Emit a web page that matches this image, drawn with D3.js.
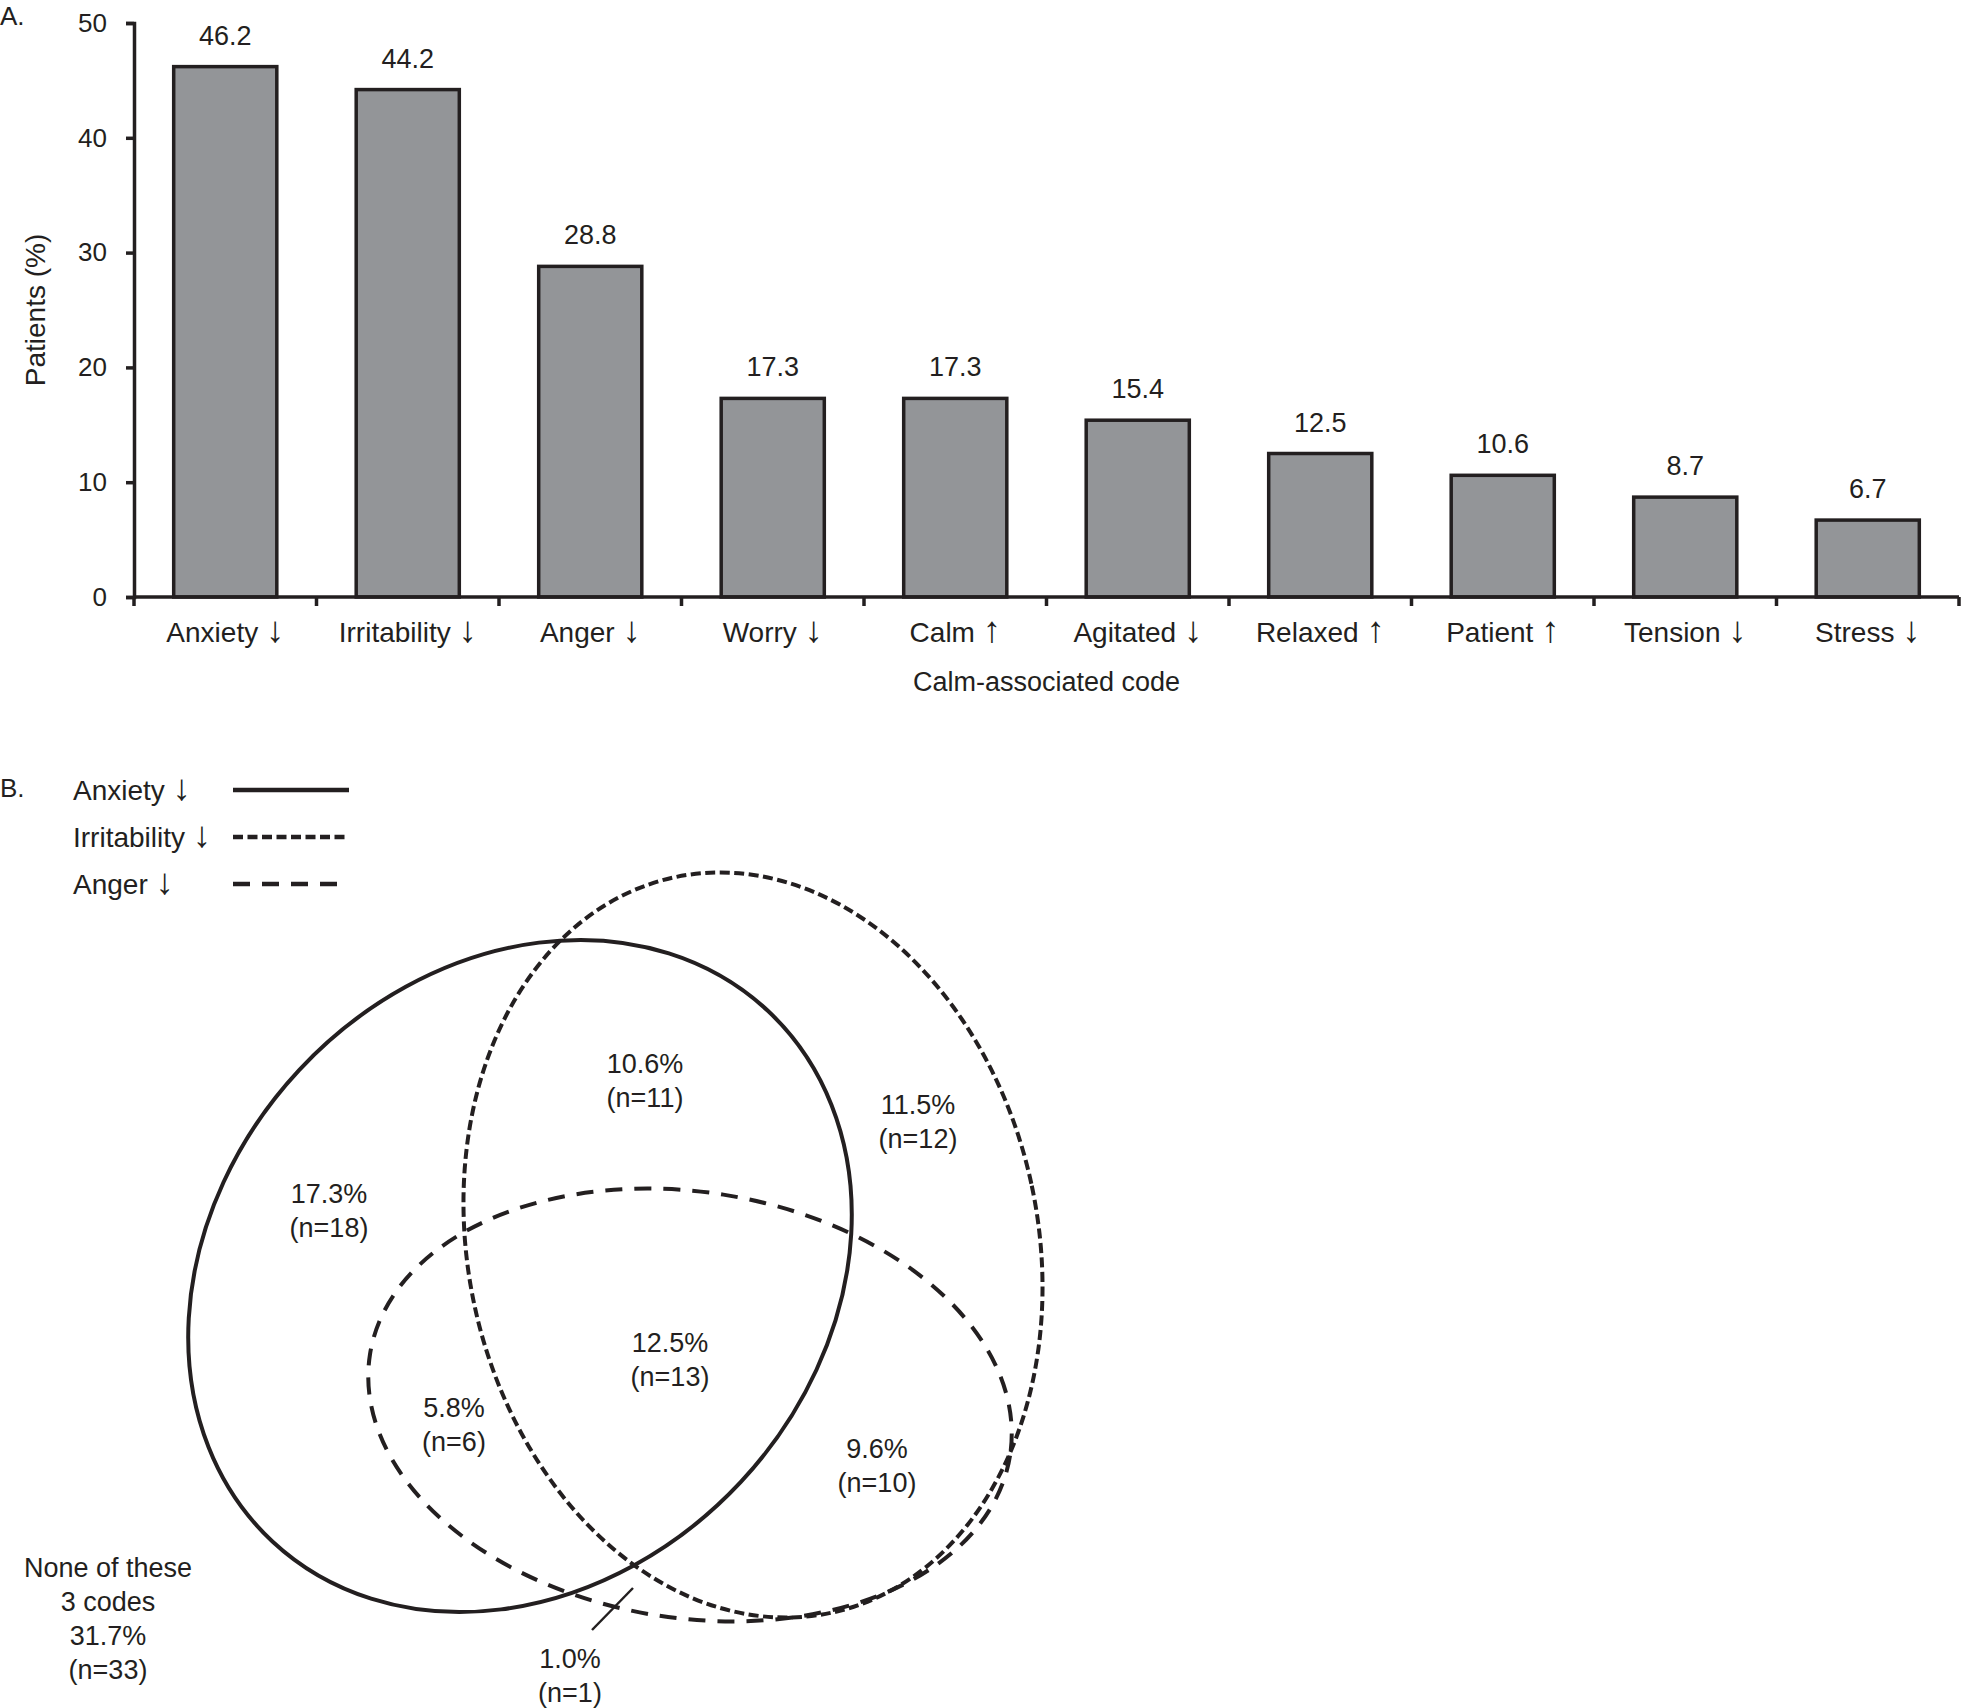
<!DOCTYPE html>
<html lang="en">
<head>
  <meta charset="UTF-8">
  <title>Calm-associated codes</title>
  <script src="https://cdn.jsdelivr.net/npm/d3@7"></script>
  <style>
    body { margin: 0; background: #fff; }
    svg { display: block; }
    text { font-family: 'Liberation Sans', Arial, sans-serif; fill: #231f20; }
    .arrow { font-size: 1.3em; }
  </style>
</head>
<body>
  <div id="chart"></div>
  <script>
    // Panel A data
    const codes = ['Anxiety ↓', 'Irritability ↓', 'Anger ↓', 'Worry ↓', 'Calm ↑',
      'Agitated ↓', 'Relaxed ↑', 'Patient ↑', 'Tension ↓', 'Stress ↓'];
    const patientPct = [46.2, 44.2, 28.8, 17.3, 17.3, 15.4, 12.5, 10.6, 8.7, 6.7];
    const yTicks = [0, 10, 20, 30, 40, 50];

    // Panel B data
    const vennSets = ['Anxiety ↓', 'Irritability ↓', 'Anger ↓'];
    // regions: anx+irr, irr only, anx only, all three, anx+ang, irr+ang, ang only
    const regionPct = [10.6, 11.5, 17.3, 12.5, 5.8, 9.6, 1.0];
    const regionN = [11, 12, 18, 13, 6, 10, 1];
    const noneLines = ['None of these', '3 codes', '31.7%', '(n=33)'];

    const ink = '#231f20';
    const W = 1968, H = 1708;

    // write "Name ↓" as name + a taller arrow glyph
    function arrowLabel(sel) {
      sel.each(function (d) {
        let t = d3.select(this).text(null);
        let parts = d.split(' ');
        t.append('tspan').text(parts[0] + ' ');
        t.append('tspan').attr('class', 'arrow').text(parts[1]);
      });
    }

    const svg = d3.select('#chart').append('svg')
      .attr('width', W)
      .attr('height', H);

    // ---------- A. bar chart ----------
    const plot = { left: 134, right: 1959, top: 23, bottom: 597 };

    let x = d3.scaleBand()
      .domain(codes)
      .range([plot.left, plot.right])
      .padding(0);
    let y = d3.scaleLinear()
      .domain([0, 50])
      .range([plot.bottom, plot.top]);
    const barW = x.bandwidth() * 0.565;

    svg.append('text')
      .attr('x', 0).attr('y', 25)
      .style('font-size', '26px')
      .text('A.');

    svg.selectAll('.bar')
      .data(patientPct)
      .enter().append('rect')
      .attr('class', 'bar')
      .attr('x', (d, i) => x(codes[i]) + (x.bandwidth() - barW) / 2)
      .attr('y', d => y(d))
      .attr('width', barW)
      .attr('height', d => y(0) - y(d))
      .style('fill', '#939598')
      .style('stroke', ink)
      .style('stroke-width', 3.5);

    svg.selectAll('.value')
      .data(patientPct)
      .enter().append('text')
      .attr('class', 'value')
      .attr('x', (d, i) => x(codes[i]) + x.bandwidth() / 2)
      .attr('y', d => y(d) - 22)
      .attr('text-anchor', 'middle')
      .style('font-size', '27px')
      .text(d => d3.format('.1f')(d));

    // y axis
    let yAxis = d3.axisLeft(y).tickValues(yTicks).tickSize(8).tickPadding(19);
    let yg = svg.append('g')
      .attr('transform', `translate(${plot.left},0)`)
      .call(yAxis);
    yg.selectAll('path, line').style('stroke', ink).style('stroke-width', 3.5);
    yg.selectAll('text').style('font-size', '26px').style('fill', ink)
      .style('font-family', "'Liberation Sans', Arial, sans-serif");

    // x axis: labels at centres, ticks at band edges
    let xAxis = d3.axisBottom(x).tickSize(0).tickPadding(0);
    let xg = svg.append('g')
      .attr('transform', `translate(0,${plot.bottom})`)
      .call(xAxis);
    xg.select('.domain').remove();
    xg.selectAll('text')
      .attr('y', 45).attr('dy', 0)
      .style('font-size', '28px').style('fill', ink)
      .style('font-family', "'Liberation Sans', Arial, sans-serif")
      .call(arrowLabel);

    svg.append('line')
      .attr('x1', plot.left).attr('x2', plot.right)
      .attr('y1', plot.bottom).attr('y2', plot.bottom)
      .style('stroke', ink).style('stroke-width', 3.5);

    const edges = codes.map(c => x(c)).concat([plot.right]);
    svg.selectAll('.xtick')
      .data(edges)
      .enter().append('line')
      .attr('class', 'xtick')
      .attr('x1', d => d).attr('x2', d => d)
      .attr('y1', plot.bottom).attr('y2', plot.bottom + 9)
      .style('stroke', ink).style('stroke-width', 3.5);

    svg.append('text')
      .attr('x', (plot.left + plot.right) / 2)
      .attr('y', 691)
      .attr('text-anchor', 'middle')
      .style('font-size', '27px')
      .text('Calm-associated code');

    svg.append('text')
      .attr('transform', `translate(45, ${(plot.top + plot.bottom) / 2}) rotate(-90)`)
      .attr('text-anchor', 'middle')
      .style('font-size', '28px')
      .text('Patients (%)');

    // ---------- B. Venn diagram ----------
    svg.append('text')
      .attr('x', 0).attr('y', 797)
      .style('font-size', '26px')
      .text('B.');

    // outline geometry for each set (same order as vennSets)
    const shapes = [
      { cx: 520, cy: 1276, rx: 363, ry: 302, rot: -47, dash: null },
      { cx: 753, cy: 1245, rx: 285, ry: 376, rot: -12, dash: '10,4.5' },
      { cx: 690, cy: 1405, rx: 324, ry: 213, rot: 9, dash: '17,12' }
    ];

    let legend = svg.append('g').attr('class', 'legend');
    let legendRows = legend.selectAll('g')
      .data(vennSets)
      .enter().append('g')
      .attr('transform', (d, i) => `translate(0, ${790 + i * 47})`);
    legendRows.append('text')
      .attr('x', 73).attr('y', 10)
      .style('font-size', '28px')
      .text(d => d)
      .call(arrowLabel);
    legendRows.append('line')
      .attr('x1', 233).attr('x2', 349)
      .attr('y1', 0).attr('y2', 0)
      .style('stroke', ink)
      .style('stroke-width', 4.5)
      .style('stroke-dasharray', (d, i) => shapes[i].dash);

    svg.selectAll('.set')
      .data(vennSets)
      .enter().append('ellipse')
      .attr('class', 'set')
      .attr('transform', (d, i) => `translate(${shapes[i].cx},${shapes[i].cy}) rotate(${shapes[i].rot})`)
      .attr('rx', (d, i) => shapes[i].rx)
      .attr('ry', (d, i) => shapes[i].ry)
      .style('fill', 'none')
      .style('stroke', ink)
      .style('stroke-width', 4)
      .style('stroke-dasharray', (d, i) => shapes[i].dash);

    // label anchors for each region (centre x, baseline of first line)
    const regionPos = [[645, 1073], [918, 1114], [329, 1203], [670, 1352],
      [454, 1417], [877, 1458], [570, 1668]];

    let regions = svg.selectAll('.region')
      .data(regionPct)
      .enter().append('text')
      .attr('class', 'region')
      .attr('text-anchor', 'middle')
      .style('font-size', '27px');
    regions.append('tspan')
      .attr('x', (d, i) => regionPos[i][0])
      .attr('y', (d, i) => regionPos[i][1])
      .text(d => d3.format('.1f')(d) + '%');
    regions.append('tspan')
      .attr('x', (d, i) => regionPos[i][0])
      .attr('y', (d, i) => regionPos[i][1] + 34)
      .text((d, i) => `(n=${regionN[i]})`);

    // leader for the tiny anger-only region
    svg.append('line')
      .attr('x1', 592).attr('y1', 1630)
      .attr('x2', 633).attr('y2', 1588)
      .style('stroke', ink).style('stroke-width', 2.5);

    svg.append('text')
      .attr('text-anchor', 'middle')
      .style('font-size', '27px')
      .selectAll('tspan')
      .data(noneLines)
      .enter().append('tspan')
      .attr('x', 108)
      .attr('y', (d, i) => 1577 + i * 34)
      .text(d => d);
  </script>
</body>
</html>
